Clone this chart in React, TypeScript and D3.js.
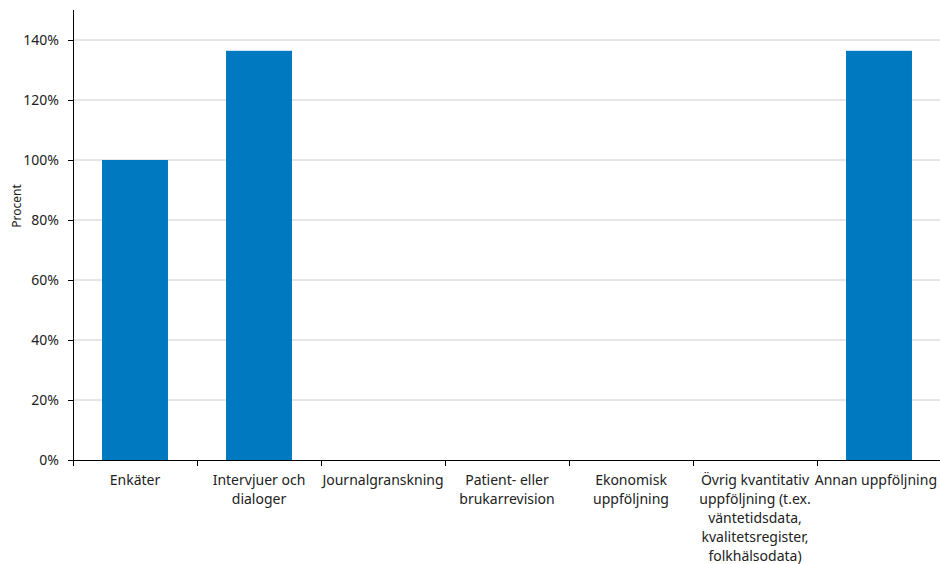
import React, { useEffect, useRef } from "react";
import * as d3 from "d3";

const categories = [
  "Enkäter",
  "Intervjuer och dialoger",
  "Journalgranskning",
  "Patient- eller brukarrevision",
  "Ekonomisk uppföljning",
  "Övrig kvantitativ uppföljning (t.ex. väntetidsdata, kvalitetsregister, folkhälsodata)",
  "Annan uppföljning",
];
const values = [100, 136.4, 0, 0, 0, 0, 136.4];
const yTicks = [0, 20, 40, 60, 80, 100, 120, 140];
const yLabel = "Procent";

const W = 940;
const H = 564;
const M = { left: 73, right: 0, top: 10, bottom: 104 };
const FONT = "'Noto Sans', 'Open Sans', sans-serif";
const FS = 14;

export default function App() {
  const ref = useRef<SVGSVGElement>(null);

  useEffect(() => {
    const svg = d3.select(ref.current);
    svg.selectAll("*").remove();

    const x = d3
      .scaleBand<string>()
      .domain(categories)
      .range([M.left, 941])
      .paddingInner(0.468)
      .paddingOuter(0.234);
    const xb = d3.scaleBand<string>().domain(categories).range([M.left, 941]);
    const y = d3.scaleLinear().domain([0, 150]).range([H - M.bottom, M.top]);

    svg
      .append("g")
      .selectAll("line")
      .data(yTicks.filter((d) => d > 0))
      .join("line")
      .attr("x1", M.left)
      .attr("x2", 941)
      .attr("y1", (d) => y(d))
      .attr("y2", (d) => y(d))
      .attr("stroke", "#cccccc")
      .attr("stroke-width", 1);

    svg
      .append("g")
      .selectAll("rect")
      .data(categories.map((c, i) => ({ c, v: values[i] })))
      .join("rect")
      .attr("x", (d) => x(d.c)!)
      .attr("width", x.bandwidth())
      .attr("y", (d) => y(d.v))
      .attr("height", (d) => y(0) - y(d.v))
      .attr("fill", "#0079c1");

    const ya = svg.append("g");
    ya.append("line")
      .attr("x1", M.left + 0.5)
      .attr("x2", M.left + 0.5)
      .attr("y1", M.top)
      .attr("y2", y(0))
      .attr("stroke", "#000");
    ya.selectAll("line.t")
      .data(yTicks)
      .join("line")
      .attr("class", "t")
      .attr("x1", M.left - 5)
      .attr("x2", M.left)
      .attr("y1", (d) => y(d) + 0.5)
      .attr("y2", (d) => y(d) + 0.5)
      .attr("stroke", "#000");
    ya.selectAll("text")
      .data(yTicks)
      .join("text")
      .attr("x", 59)
      .attr("y", (d) => y(d))
      .attr("dy", "0.35em")
      .attr("text-anchor", "end")
      .attr("font-family", FONT)
      .attr("font-size", FS)
      .attr("fill", "#222")
      .text((d) => `${d}%`);

    svg
      .append("text")
      .attr("transform", `translate(21,206) rotate(-90)`)
      .attr("text-anchor", "middle")
      .attr("font-family", FONT)
      .attr("font-size", 12)
      .attr("fill", "#222")
      .text(yLabel);

    const xa = svg.append("g");
    xa.append("line")
      .attr("x1", M.left)
      .attr("x2", 941)
      .attr("y1", y(0) + 0.5)
      .attr("y2", y(0) + 0.5)
      .attr("stroke", "#000");
    const bounds = categories.map((c) => xb(c)!).concat([941]);
    xa.selectAll("line.t")
      .data(bounds)
      .join("line")
      .attr("class", "t")
      .attr("x1", (d) => Math.round(d) + 0.5)
      .attr("x2", (d) => Math.round(d) + 0.5)
      .attr("y1", y(0))
      .attr("y2", y(0) + 6)
      .attr("stroke", "#000");

    const maxW = 124;
    categories.forEach((c) => {
      const cx = xb(c)! + xb.bandwidth() / 2;
      const t = xa
        .append("text")
        .attr("x", cx)
        .attr("y", y(0) + 25)
        .attr("text-anchor", "middle")
        .attr("font-family", FONT)
        .attr("font-size", FS)
        .attr("fill", "#222");
      const words = c.split(" ");
      let line: string[] = [];
      let ts = t.append("tspan").attr("x", cx).attr("dy", 0);
      words.forEach((w) => {
        line.push(w);
        ts.text(line.join(" "));
        if ((ts.node() as SVGTSpanElement).getComputedTextLength() > maxW && line.length > 1) {
          line.pop();
          ts.text(line.join(" "));
          line = [w];
          ts = t.append("tspan").attr("x", cx).attr("dy", 19).text(w);
        }
      });
      // keep label inside the chart on the right edge
      const bb = (t.node() as SVGTextElement).getBBox();
      const limit = 937;
      if (bb.x + bb.width > limit) {
        const shift = bb.x + bb.width - limit;
        t.selectAll("tspan").attr("x", cx - shift);
      }
    });
  }, []);

  return (
    <svg
      ref={ref}
      width={W}
      height={H}
      style={{ position: "absolute", left: 0, top: 0, background: "#fff" }}
    />
  );
}
